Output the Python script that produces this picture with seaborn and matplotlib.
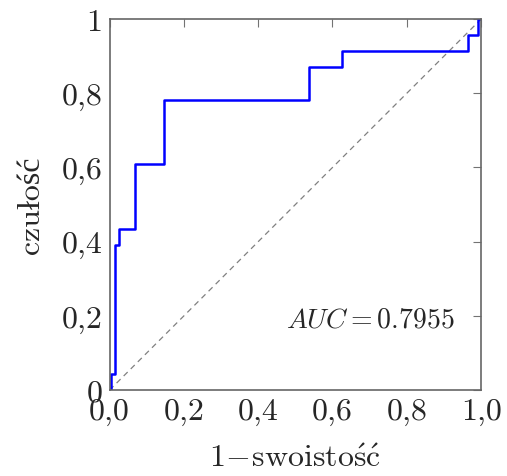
import matplotlib
matplotlib.use("Agg")
import matplotlib.pyplot as plt
import seaborn as sns
import pandas as pd

# ROC curve vertices (false positive rate, true positive rate)
fpr = [0.004, 0.015, 0.026, 0.069, 0.147, 0.537, 0.625, 0.965, 0.991, 1.0]
tpr = [0.0, 0.043, 0.391, 0.435, 0.609, 0.783, 0.870, 0.913, 0.957, 1.0]
auc_value = 0.7955

ticks = [0.0, 0.2, 0.4, 0.6, 0.8, 1.0]
xtick_labels = ["0,0", "0,2", "0,4", "0,6", "0,8", "1,0"]
ytick_labels = ["0", "0,2", "0,4", "0,6", "0,8", "1"]

sns.set_style("white")
plt.rcParams["font.family"] = ["cmr10", "Liberation Serif"]
plt.rcParams["mathtext.fontset"] = "cm"
plt.rcParams["axes.unicode_minus"] = False

fig = plt.figure(figsize=(5.07, 4.77), dpi=100)
ax = fig.add_axes([0.216, 0.180, 0.733, 0.778])

df = pd.DataFrame({"fpr": fpr, "tpr": tpr})
ax.plot([0, 1], [0, 1], color="0.5", lw=0.9, dashes=(4.5, 3.5))
sns.lineplot(data=df, x="fpr", y="tpr", sort=False, estimator=None,
             drawstyle="steps-pre", color="#0000ff", lw=1.8, ax=ax)

ax.set_xlim(0, 1)
ax.set_ylim(0, 1)
ax.set_xticks(ticks)
ax.set_xticklabels(xtick_labels)
ax.set_yticks(ticks)
ax.set_yticklabels(ytick_labels)
ax.tick_params(direction="in", length=6, width=0.8, color="0.45",
               top=True, right=True, labelsize=23, pad=5)
for s in ax.spines.values():
    s.set_color("0.4")
    s.set_linewidth(1.2)

ax.set_xlabel(r"$1\!-\!\mathrm{swoisto\acute{s}\acute{c}}$", fontsize=23, labelpad=14)
ax.set_ylabel("czułość", fontsize=23, labelpad=12)
ax.text(0.93, 0.19, rf"$AUC = {auc_value}$", transform=ax.transAxes,
        ha="right", va="center", fontsize=20)

fig.savefig("out.png", dpi=100)
